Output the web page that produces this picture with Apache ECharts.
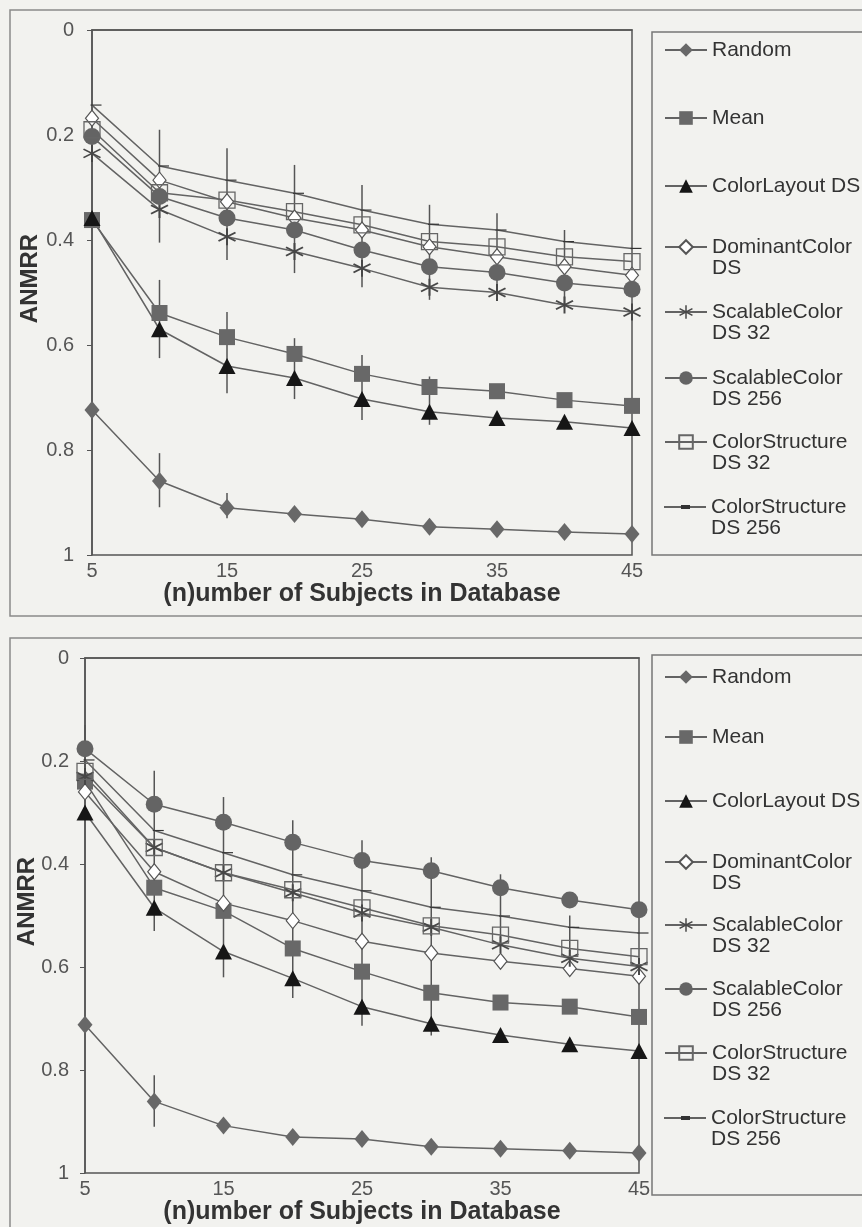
<!DOCTYPE html>
<html>
<head>
<meta charset="utf-8">
<script src="https://cdn.jsdelivr.net/npm/echarts@6/dist/echarts.min.js"></script>
<style>
html,body{margin:0;padding:0;background:#f2f2ef;}
#chart{width:862px;height:1227px;}
</style>
</head>
<body>
<div id="chart"></div>
<script>
// ---------- data ----------
const categories = ['5','10','15','20','25','30','35','40','45'];
const seriesNames = ['Random','Mean','ColorLayout DS','DominantColor DS','ScalableColor DS 32','ScalableColor DS 256','ColorStructure DS 32','ColorStructure DS 256'];
const legendLines = [['Random'],['Mean'],['ColorLayout DS'],['DominantColor','DS'],['ScalableColor','DS 32'],['ScalableColor','DS 256'],['ColorStructure','DS 32'],['ColorStructure','DS 256']];
const yTickLabels = ['0','0.2','0.4','0.6','0.8','1'];

// top panel
const topRandom      = [0.724, 0.859, 0.910, 0.922, 0.932, 0.946, 0.951, 0.956, 0.960];
const topMean        = [0.362, 0.539, 0.585, 0.617, 0.655, 0.680, 0.688, 0.705, 0.716];
const topColorLayout = [0.358, 0.570, 0.640, 0.663, 0.703, 0.727, 0.739, 0.746, 0.758];
const topDominant    = [0.168, 0.286, 0.327, 0.358, 0.381, 0.413, 0.432, 0.451, 0.467];
const topScalable32  = [0.235, 0.342, 0.394, 0.422, 0.454, 0.490, 0.500, 0.524, 0.537];
const topScalable256 = [0.203, 0.317, 0.358, 0.381, 0.419, 0.451, 0.462, 0.482, 0.494];
const topStruct32    = [0.190, 0.310, 0.324, 0.346, 0.371, 0.403, 0.413, 0.432, 0.441];
const topStruct256   = [0.143, 0.259, 0.286, 0.311, 0.343, 0.370, 0.381, 0.403, 0.416];
const topErrX    = ['10','10','10','15','15','15','20','20','25','25','30','30','35','40'];
const topErrLow  = [0.190,0.476,0.806,0.225,0.537,0.882,0.257,0.587,0.295,0.619,0.333,0.660,0.349,0.381];
const topErrHigh = [0.405,0.625,0.909,0.438,0.692,0.930,0.463,0.703,0.490,0.743,0.514,0.752,0.500,0.530];

// bottom panel
const botRandom      = [0.712, 0.861, 0.908, 0.930, 0.934, 0.949, 0.953, 0.957, 0.961];
const botMean        = [0.240, 0.446, 0.491, 0.564, 0.609, 0.650, 0.669, 0.677, 0.697];
const botColorLayout = [0.300, 0.485, 0.570, 0.622, 0.677, 0.710, 0.732, 0.750, 0.763];
const botDominant    = [0.260, 0.415, 0.476, 0.510, 0.550, 0.573, 0.589, 0.603, 0.618];
const botScalable32  = [0.230, 0.368, 0.417, 0.456, 0.495, 0.523, 0.557, 0.583, 0.599];
const botScalable256 = [0.176, 0.284, 0.319, 0.358, 0.393, 0.413, 0.446, 0.470, 0.489];
const botStruct32    = [0.220, 0.368, 0.417, 0.450, 0.485, 0.520, 0.538, 0.564, 0.580];
const botStruct256   = [0.198, 0.335, 0.378, 0.421, 0.452, 0.484, 0.501, 0.523, 0.534];
const botErrX    = ['5','10','10','15','20','25','30','35','40'];
const botErrLow  = [0.130,0.219,0.810,0.270,0.315,0.354,0.387,0.420,0.500];
const botErrHigh = [0.250,0.530,0.910,0.620,0.660,0.714,0.733,0.560,0.580];

// ---------- styles ----------
const FONT = '"Liberation Sans", Arial, Helvetica, sans-serif';
const LINE = '#636363';
const ASTERISK = 'path://M-1,-10L1,-10L1,10L-1,10Z M8.16,-5.87L9.16,-4.13L-8.16,5.87L-9.16,4.13Z M9.16,4.13L8.16,5.87L-9.16,-4.13L-8.16,-5.87Z';
const DASH = 'path://M0,0L12,0L12,3.5L0,3.5Z';
const DASH_ICON = 'path://M0,0L0.02,0L0,0.02Z M42,17L41.98,17L42,16.98Z M0,7.75L42,7.75L42,9.25L0,9.25Z M17,6.5L26,6.5L26,10.5L17,10.5Z';
const markerStyles = [
  {symbol:'diamond', symbolSize:[15,18], itemStyle:{color:'#686868'}},
  {symbol:'rect', symbolSize:16, itemStyle:{color:'#686868'}},
  {symbol:'triangle', symbolSize:[17,16], itemStyle:{color:'#161616'}},
  {symbol:'diamond', symbolSize:[13,16], itemStyle:{color:'#ffffff', borderColor:'#555', borderWidth:1.2}},
  {symbol:ASTERISK, symbolSize:[18,17], itemStyle:{color:'#474747'}},
  {symbol:'circle', symbolSize:17, itemStyle:{color:'#646464'}},
  {symbol:'rect', symbolSize:16, itemStyle:{color:'rgba(255,255,255,0)', borderColor:'#666', borderWidth:1.3}},
  {symbol:DASH, symbolSize:[11,4], symbolOffset:[4,0], symbolKeepAspect:true, itemStyle:{color:'#333'}}
];
const legendIcons = [null,null,null,null,null,null,null,DASH_ICON];

const topData = [topRandom, topMean, topColorLayout, topDominant, topScalable32, topScalable256, topStruct32, topStruct256];
const botData = [botRandom, botMean, botColorLayout, botDominant, botScalable32, botScalable256, botStruct32, botStruct256];

const panels = [
  {grid:{left:92, top:30, width:540, height:525}, nameGap:26, labelMargin:18, yNameGap:50, legendCenters:[50,118,186,247,312,378,442,507], legendBox:{y:32,h:523}, frame:{y:10,h:606}, errX:topErrX, errLow:topErrLow, errHigh:topErrHigh, data:topData},
  {grid:{left:85, top:658, width:554, height:515}, nameGap:26, labelMargin:16, yNameGap:46, legendCenters:[677,737,801,862,925,989,1053,1118], legendBox:{y:655,h:540}, frame:{y:638,h:590}, errX:botErrX, errLow:botErrLow, errHigh:botErrHigh, data:botData}
];

const option = {
  backgroundColor:'#f2f2ef',
  animation:false,
  grid:[], xAxis:[], yAxis:[], series:[], legend:[], graphic:[]
};

panels.forEach((p, pi) => {
  option.grid.push(Object.assign({show:true, borderColor:'#555', borderWidth:1.5, backgroundColor:'transparent', containLabel:false, outerBoundsMode:'none'}, p.grid));
  option.xAxis.push({
    type:'category', gridIndex:pi, data:categories, boundaryGap:false,
    axisLine:{lineStyle:{color:'#555', width:1.5}},
    axisTick:{show:false},
    axisLabel:{interval:1, color:'#555', fontSize:20, fontFamily:FONT, margin:6},
    name:'(n)umber of Subjects in Database', nameLocation:'middle', nameGap:p.nameGap,
    nameTextStyle:{fontSize:25, fontWeight:'bold', color:'#333', fontFamily:FONT},
    splitLine:{show:false}
  });
  option.yAxis.push({
    type:'value', gridIndex:pi, inverse:true, min:0, max:1, interval:0.2,
    axisLine:{show:true, lineStyle:{color:'#555', width:1.5}},
    axisTick:{show:true, length:5, lineStyle:{color:'#555'}},
    axisLabel:{color:'#555', fontSize:20, fontFamily:FONT, margin:p.labelMargin,
      formatter:(v) => yTickLabels[Math.round(v/0.2)]},
    splitLine:{show:false},
    name:'ANMRR', nameLocation:'middle', nameRotate:90, nameGap:p.yNameGap, nameMoveOverlap:false,
    nameTextStyle:{fontSize:24, fontWeight:'bold', color:'#333', fontFamily:FONT, padding:[0,0,0,28]}
  });
  // error bars
  option.series.push({
    type:'custom', xAxisIndex:pi, yAxisIndex:pi, z:1, silent:true,
    data:p.errX.map((x,i)=>[categories.indexOf(x), p.errLow[i], p.errHigh[i]]),
    encode:{x:0, y:[1,2]},
    renderItem:(params, api) => {
      const a = api.coord([api.value(0), api.value(1)]);
      const b = api.coord([api.value(0), api.value(2)]);
      return {type:'line', shape:{x1:a[0], y1:a[1], x2:b[0], y2:b[1]}, style:{stroke:'#555', lineWidth:1.5}};
    }
  });
  p.data.forEach((vals, si) => {
    option.series.push(Object.assign({
      type:'line', name:seriesNames[si], xAxisIndex:pi, yAxisIndex:pi, z:2,
      data:vals, showAllSymbol:true,
      lineStyle:{color:LINE, width:1.5}
    }, markerStyles[si]));
  });
  // legends, one per item
  legendLines.forEach((lines, li) => {
    const multi = lines.length > 1;
    const c = p.legendCenters[li];
    const item = legendIcons[li] ? {name:seriesNames[li], icon:legendIcons[li]} : seriesNames[li];
    option.legend.push({
      data:[item], left:664, top: multi ? c - 31.5 : c - 10.5,
      orient:'vertical', padding:0, itemWidth:42, itemHeight:17, itemGap:0,
      selectedMode:false,
      textStyle:{fontSize:21, color:'#333', fontFamily:FONT, lineHeight:21},
      formatter:() => multi ? '\n' + lines.join('\n') : lines[0]
    });
  });
  option.graphic.push({type:'rect', silent:true, z:-1, shape:{x:10, y:p.frame.y, width:900, height:p.frame.h}, style:{fill:'none', stroke:'#8a8a8a', lineWidth:1.5}});
  option.graphic.push({type:'rect', silent:true, z:-1, shape:{x:652, y:p.legendBox.y, width:300, height:p.legendBox.h}, style:{fill:'none', stroke:'#777', lineWidth:1.5}});
});

const chart = echarts.init(document.getElementById('chart'), null, {renderer:'canvas'});
chart.setOption(option);
</script>
</body>
</html>
